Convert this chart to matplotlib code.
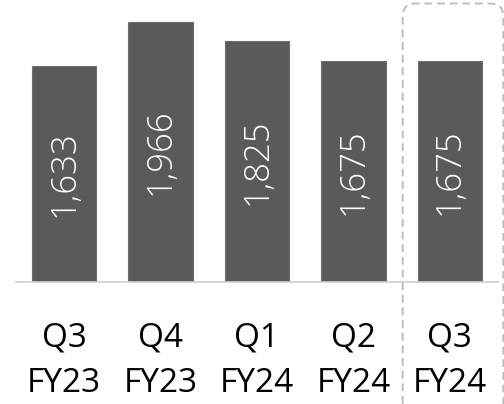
import matplotlib
matplotlib.use("Agg")
import matplotlib.pyplot as plt
from matplotlib.patches import FancyBboxPatch
from matplotlib.transforms import IdentityTransform

quarters = ["Q3", "Q4", "Q1", "Q2", "Q3"]
years = ["FY23", "FY23", "FY24", "FY24", "FY24"]
values = [1633, 1966, 1825, 1675, 1675]

W, H = 504, 404
fig = plt.figure(figsize=(W / 100, H / 100), dpi=100)
ax = fig.add_axes([16 / W, (H - 281.7) / H, (498 - 16) / W, 281.7 / H])

x = list(range(len(values)))
ax.bar(x, values, width=0.67, color="#5a5a5a", edgecolor="#6e6e6e", linewidth=0.8, zorder=2)
ax.set_xlim(-0.5, len(values) - 0.5)
ax.set_ylim(0, 2134)

for xi, v in zip(x, values):
    ax.text(xi, v / 2, f"{v:,}", rotation=90, ha="center", va="center",
            color="white", fontsize=25, family="Open Sans", fontweight="light")

for s in ["top", "right", "left"]:
    ax.spines[s].set_visible(False)
ax.spines["bottom"].set_color("#d0d0d0")
ax.spines["bottom"].set_linewidth(1.2)
ax.set_yticks([])
ax.set_xticks(x)
ax.set_xticklabels([f"{q}\n{y}" for q, y in zip(quarters, years)],
                   fontsize=24, family="Open Sans", linespacing=1.5)
ax.tick_params(axis="x", length=0, pad=29)
ax.patch.set_visible(False)

# dashed rounded highlight box (pixel coordinates, origin bottom-left)
box = FancyBboxPatch((402.7, -30), 503.3 - 402.7, H - 3.5 + 30,
                     boxstyle="round,pad=0,rounding_size=13",
                     transform=IdentityTransform(), fill=False, edgecolor="#bdbdbd",
                     linewidth=1.4, linestyle=(0, (4, 2.5)), clip_on=False, zorder=5)
fig.patches.append(box)

fig.savefig("out.png", dpi=100)
